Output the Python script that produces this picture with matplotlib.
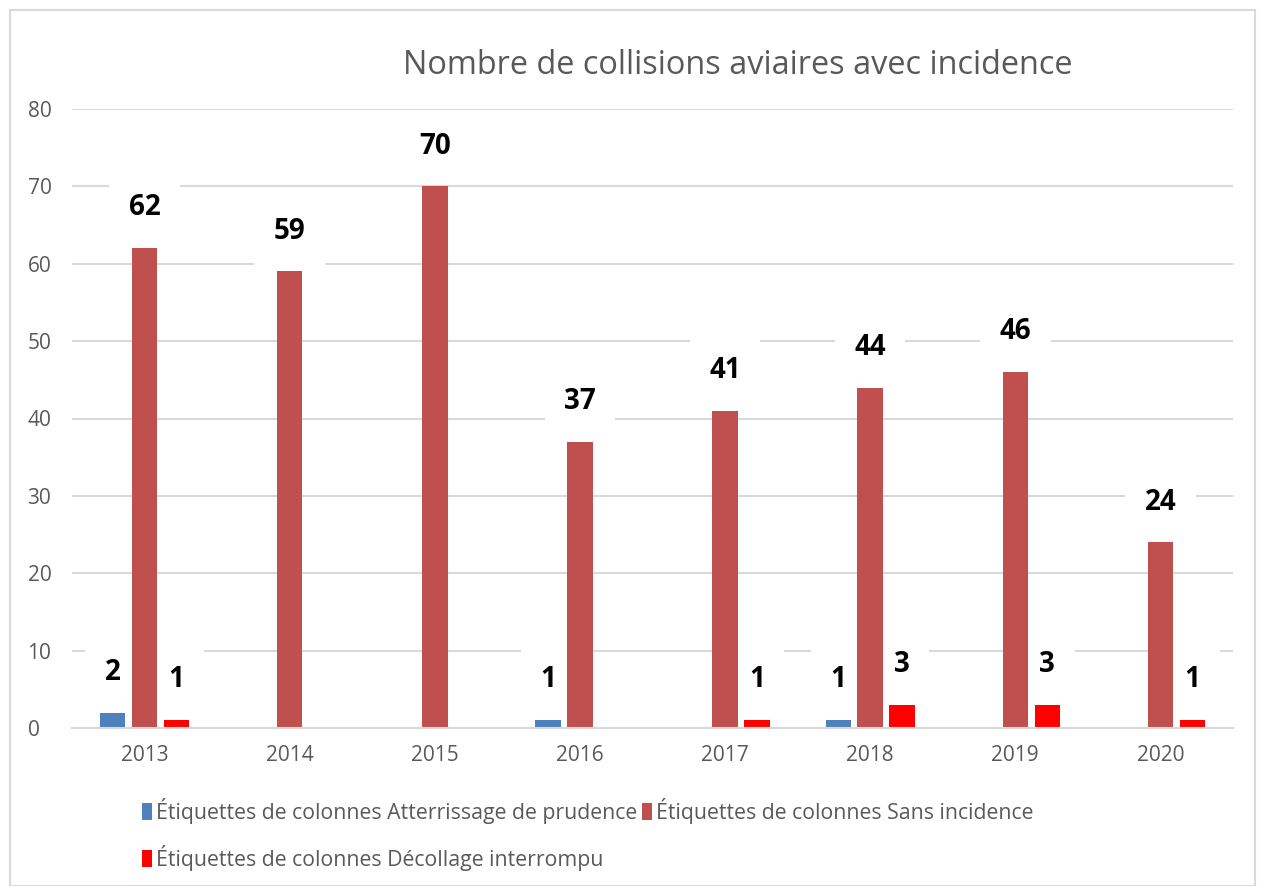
import matplotlib
matplotlib.use("Agg")
import matplotlib.pyplot as plt
import numpy as np
from matplotlib.patches import Rectangle

plt.rcParams['font.family'] = ['Open Sans', 'DejaVu Sans']

years = ["2013", "2014", "2015", "2016", "2017", "2018", "2019", "2020"]
atterrissage = [2, 0, 0, 1, 0, 1, 0, 0]
sans_incidence = [62, 59, 70, 37, 41, 44, 46, 24]
decollage = [1, 0, 0, 0, 1, 3, 3, 1]
series_names = [
    "Étiquettes de colonnes Atterrissage de prudence",
    "Étiquettes de colonnes Sans incidence",
    "Étiquettes de colonnes Décollage interrompu",
]
colors = ["#4f81bd", "#c0504d", "#ff0000"]
title = "Nombre de collisions aviaires avec incidence"

fig = plt.figure(figsize=(12.65, 8.86), dpi=100)
ax = fig.add_axes([72/1265, 1-728/886, (1233-72)/1265, (728-109)/886])

x = np.arange(len(years))
w = 0.175
step = 0.22
handles = []
for i, (vals, col, name) in enumerate(zip([atterrissage, sans_incidence, decollage], colors, series_names)):
    b = ax.bar(x + (i-1)*step, vals, width=w, color=col, label=name, zorder=2)
    handles.append(b)
    for xi, v in zip(x + (i-1)*step, vals):
        if v:
            ax.annotate(str(v), (xi, v), xytext=(0, 29), textcoords='offset points',
                        ha='center', va='center', fontsize=20, fontweight='bold',
                        color='black', zorder=1.5,
                        bbox=dict(boxstyle='square,pad=0.7', fc='white', ec='none'))

ax.set_xlim(-0.5, len(years)-0.5)
ax.set_ylim(0, 80)
ax.set_yticks(range(0, 81, 10))
ax.set_xticks(x)
ax.set_xticklabels(years)
ax.yaxis.grid(True, color='#d9d9d9', linewidth=1.5, zorder=0)
ax.set_axisbelow(True)
for s in ['top', 'right', 'left']:
    ax.spines[s].set_visible(False)
ax.spines['bottom'].set_color('#d9d9d9')
ax.spines['bottom'].set_linewidth(1.5)
ax.tick_params(axis='both', length=0, labelsize=15, colors='#595959')
ax.tick_params(axis='x', pad=12)
ax.tick_params(axis='y', pad=32)
for lab in ax.get_yticklabels():
    lab.set_horizontalalignment('left')

fig.text(738/1265, 1-65/886, title, ha='center', va='center', fontsize=23.4, color='#595959')

leg = fig.legend([handles[0], handles[2], handles[1]],
                 [series_names[0], series_names[2], series_names[1]],
                 ncol=2, loc='upper left', bbox_to_anchor=(142/1265, 1-798/886),
                 frameon=False, fontsize=15.3, labelcolor='#595959',
                 handlelength=0.45, handleheight=0.85, handletextpad=0.2,
                 columnspacing=0.25, labelspacing=1.0, borderaxespad=0, borderpad=0)

fig.patches.append(Rectangle((10/1265, 0), 1245/1265, 1-10/886, transform=fig.transFigure,
                             fill=False, ec='#d9d9d9', lw=1.5))

fig.savefig("out.png", dpi=100)
